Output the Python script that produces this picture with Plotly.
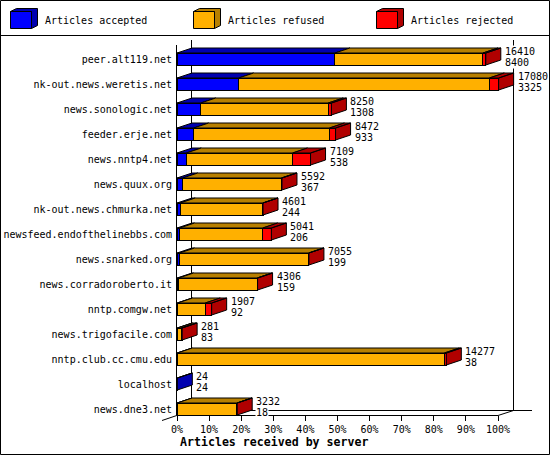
import plotly.graph_objects as go

servers = [
    "peer.alt119.net", "nk-out.news.weretis.net", "news.sonologic.net",
    "feeder.erje.net", "news.nntp4.net", "news.quux.org",
    "nk-out.news.chmurka.net", "newsfeed.endofthelinebbs.com",
    "news.snarked.org", "news.corradoroberto.it", "nntp.comgw.net",
    "news.trigofacile.com", "nntp.club.cc.cmu.edu", "localhost", "news.dne3.net",
]
# percentages
accepted = [49.2, 19.2, 7.4, 5.2, 2.9, 1.8, 1.0, 0.8, 0.8, 0.5, 0.2, 0.2, 0.1, 0.1, 0.05]
refused = [46.1, 78.1, 39.7, 42.3, 33.1, 30.7, 25.7, 25.9, 40.2, 24.5, 8.6, 1.1, 83.2, 0, 18.6]
rejected = [0.9, 2.9, 1.0, 1.9, 5.6, 0.2, 0.1, 2.7, 0.1, 0.1, 2.0, 0.3, 0.6, 0, 0.1]
received_labels = ["16410", "17080", "8250", "8472", "7109", "5592", "4601", "5041",
                   "7055", "4306", "1907", "281", "14277", "24", "3232"]
accepted_labels = ["8400", "3325", "1308", "933", "538", "367", "244", "206",
                   "199", "159", "92", "83", "38", "24", "18"]
legend_names = ["Articles accepted", "Articles refused", "Articles rejected"]
x_ticks = [0, 10, 20, 30, 40, 50, 60, 70, 80, 90, 100]

W, H = 550, 455
# plot box runs past the 100% tick so the 3d faces are not clipped
L, R, T, B = 177, 534, 45, 415
PX_PER_PCT = 3.21
FONT = "DejaVu Sans Mono"
FRONT = ["#0000ff", "#ffb000", "#ff0000"]
DARK = ["#0000b0", "#b88000", "#b00000"]
# 3d depth in axis units: 15px across, 5px up
DX = 15 / PX_PER_PCT
DY = 5 / 25
HALF = 0.24


def px(x):
    return (x - L) / (R - L)


def py(y):
    return (B - y) / (B - T)


rows = list(range(len(servers)))
series = [accepted, refused, rejected]

fig = go.Figure()
for s, values in enumerate(series):
    fig.add_trace(go.Bar(
        y=rows, x=values, orientation="h", width=HALF * 2,
        marker=dict(color=FRONT[s], line=dict(color="black", width=1)),
        hoverinfo="skip", showlegend=False,
    ))

# top and side faces of the bars
for s, values in enumerate(series):
    xs, ys = [], []
    for r in rows:
        a = sum(series[k][r] for k in range(s))
        b = a + values[r]
        if values[r] == 0:
            continue
        xs += [a, b, b + DX, a + DX, a, None]
        ys += [r - HALF, r - HALF, r - HALF - DY, r - HALF - DY, r - HALF, None]
        later = sum(series[k][r] for k in range(s + 1, 3))
        if later == 0:
            xs += [b, b + DX, b + DX, b, b, None]
            ys += [r - HALF, r - HALF - DY, r + HALF - DY, r + HALF, r - HALF, None]
    fig.add_trace(go.Scatter(
        x=xs, y=ys, mode="lines", fill="toself", fillcolor=DARK[s],
        line=dict(color="black", width=1), cliponaxis=False,
        hoverinfo="skip", showlegend=False,
    ))

shapes = []


def line(x0, y0, x1, y1):
    shapes.append(dict(type="line", xref="paper", yref="paper", layer="below",
                       x0=px(x0), y0=py(y0), x1=px(x1), y1=py(y1),
                       line=dict(color="black", width=1)))


# image frame and legend separator
line(0.5, 0.5, 549.5, 0.5)
line(0.5, 454.5, 549.5, 454.5)
line(0.5, 0.5, 0.5, 454.5)
line(549.5, 0.5, 549.5, 454.5)
line(0.5, 35.5, 549.5, 35.5)
# walls and floor
line(191.5, 40, 191.5, 410.5)
line(513.5, 40, 513.5, 410.5)
line(191.5, 410.5, 532, 410.5)
line(162, 420.5, 191.5, 410.5)
line(498, 415.5, 513.5, 410.5)
line(177, 415.5, 498, 415.5)

annotations = []
for r in rows:
    total = accepted[r] + refused[r] + rejected[r]
    for text, shift in ((received_labels[r], 8), (accepted_labels[r], -3)):
        annotations.append(dict(
            x=total, y=r, xref="x", yref="y", text=text, showarrow=False,
            xanchor="left", yanchor="middle", xshift=18, yshift=shift,
            font=dict(family=FONT, size=10, color="black"),
            bgcolor="white", borderpad=0, height=11,
        ))

annotations.append(dict(
    x=px(178), y=py(442), xref="paper", yref="paper", showarrow=False,
    text="<b>Articles received by server</b>", xanchor="left", yanchor="middle",
    font=dict(family=FONT, size=11.6, color="black"),
))

# legend swatches
for i, (name, sx) in enumerate(zip(legend_names, [10.5, 193.5, 376.5])):
    front = f"M{px(sx)},{py(11.5)} L{px(sx + 21)},{py(11.5)} L{px(sx + 21)},{py(28.5)} L{px(sx)},{py(28.5)} Z"
    side = (f"M{px(sx)},{py(11.5)} L{px(sx + 6)},{py(8.5)} L{px(sx + 27)},{py(8.5)} "
            f"L{px(sx + 27)},{py(25.5)} L{px(sx + 21)},{py(28.5)} L{px(sx + 21)},{py(11.5)} Z")
    shapes.append(dict(type="path", xref="paper", yref="paper", path=side,
                       fillcolor=DARK[i], line=dict(color="black", width=1)))
    shapes.append(dict(type="path", xref="paper", yref="paper", path=front,
                       fillcolor=FRONT[i], line=dict(color="black", width=1)))
    annotations.append(dict(
        x=px(sx + 32), y=py(20), xref="paper", yref="paper", text=name,
        showarrow=False, xanchor="left", yanchor="middle",
        font=dict(family=FONT, size=10, color="black"),
    ))

fig.update_layout(
    width=W, height=H, barmode="stack", showlegend=False,
    margin=dict(l=L, r=W - R, t=T, b=H - B, pad=0),
    paper_bgcolor="white", plot_bgcolor="rgba(0,0,0,0)",
    font=dict(family=FONT, size=10, color="black"),
    shapes=shapes, annotations=annotations,
    xaxis=dict(range=[0, (R - L) / PX_PER_PCT], tickvals=x_ticks,
               ticktext=[f"{v}%" for v in x_ticks],
               ticks="outside", ticklen=5, tickcolor="black", tickwidth=1,
               showgrid=False, zeroline=False, showline=False, automargin=False),
    yaxis=dict(range=[(B - 59) / 25, (T - 59) / 25], tickvals=rows, ticktext=servers,
               ticks="", ticklen=0, showgrid=False, zeroline=False, showline=True,
               linecolor="black", linewidth=1, automargin=False, ticklabelstandoff=2),
)

fig.write_html("out.html", config={"displayModeBar": False},
               post_script="document.body.style.margin = '0';")
